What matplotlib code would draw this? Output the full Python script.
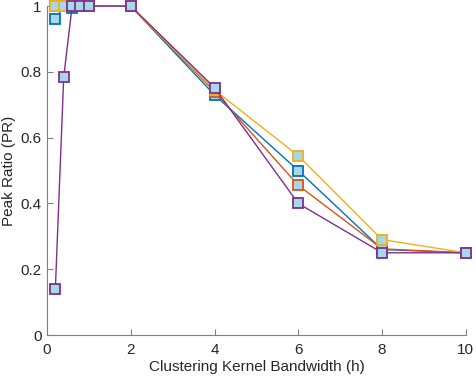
import matplotlib
matplotlib.use("Agg")
import matplotlib.pyplot as plt

bandwidth = [0.2, 0.4, 0.6, 0.8, 1.0, 2.0, 4.0, 6.0, 8.0, 10.0]
pr_blue   = [0.96, 1.0, 0.995, 1.0, 1.0, 1.0, 0.73, 0.50, 0.26, 0.25]
pr_orange = [1.0, 1.0, 1.0, 1.0, 1.0, 1.0, 0.74, 0.455, 0.262, 0.25]
pr_yellow = [1.0, 1.0, 1.0, 1.0, 1.0, 1.0, 0.745, 0.545, 0.29, 0.25]
pr_purple = [0.14, 0.785, 1.0, 1.0, 1.0, 1.0, 0.752, 0.40, 0.25, 0.25]

series = [pr_blue, pr_orange, pr_yellow, pr_purple]
colors = ["#0072BD", "#D95319", "#EDB120", "#7E2F8E"]

xticks = [0, 2, 4, 6, 8, 10]
yticks = [0, 0.2, 0.4, 0.6, 0.8, 1.0]
yticklabels = ["0", "0.2", "0.4", "0.6", "0.8", "1"]

plt.rcParams['font.family'] = ['Liberation Sans', 'DejaVu Sans']

fig = plt.figure(figsize=(4.76, 3.82), dpi=100)
ax = fig.add_axes([0.0987, 0.123, 0.880, 0.861])

for vals, c in zip(series, colors):
    ax.plot(bandwidth, vals, color=c, lw=1.0, marker='s', markersize=7,
            markerfacecolor='#A6D8E6', markeredgecolor=c, markeredgewidth=1.3,
            clip_on=False)

ax.set_xlim(0, 10)
ax.set_ylim(0, 1)
ax.set_xticks(xticks)
ax.set_xticklabels([str(t) for t in xticks])
ax.set_yticks(yticks)
ax.set_yticklabels(yticklabels)
for s in ['top', 'right']:
    ax.spines[s].set_visible(False)
for s in ['left', 'bottom']:
    ax.spines[s].set_color('#808080')
    ax.spines[s].set_linewidth(0.8)
ax.tick_params(direction='in', length=4, width=0.8, color='#808080',
               labelsize=11, labelcolor='#262626')
ax.tick_params(axis='x', pad=6)
ax.tick_params(axis='y', pad=4)
ax.set_xlabel('Clustering Kernel Bandwidth (h)', fontsize=11, color='#262626', labelpad=2)
ax.set_ylabel('Peak Ratio (PR)', fontsize=11, color='#262626', labelpad=3)

fig.savefig('out.png', dpi=100)
